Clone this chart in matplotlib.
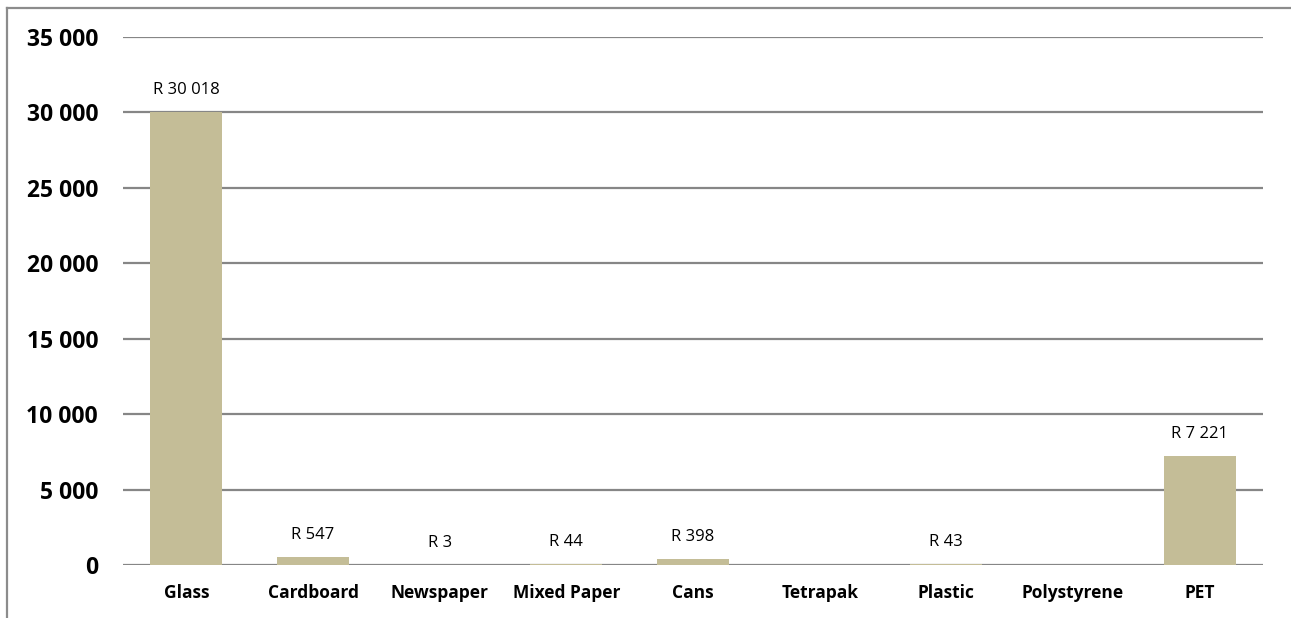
import numpy as np
import matplotlib.pyplot as plt
from matplotlib.ticker import FuncFormatter, MultipleLocator
from matplotlib.lines import Line2D

# recycling income per material (Rand); blank where nothing was sold
materials = ["Glass", "Cardboard", "Newspaper", "Mixed Paper", "Cans",
             "Tetrapak", "Plastic", "Polystyrene", "PET"]
income = [30018, 547, 3, 44, 398, None, 43, None, 7221]

bar_colour = "#C4BD97"
grid_colour = "#868686"


def space_thousands(v, pos=None):
    return "{:,.0f}".format(v).replace(",", " ")


def main():
    plt.rcParams['font.family'] = ['Open Sans', 'DejaVu Sans']

    fig = plt.figure(figsize=(12.91, 6.18), dpi=100)
    ax = fig.add_axes([0.0953, 0.0858, 0.883, 0.8545])

    x = np.arange(len(materials))
    heights = np.array([np.nan if v is None else v for v in income], dtype=float)
    ax.bar(x, np.nan_to_num(heights), width=0.57, color=bar_colour, zorder=3)

    # value labels above each bar that has data
    for xi, v in zip(x, income):
        if v is None:
            continue
        ax.annotate("R " + space_thousands(v), (xi, v), xytext=(0, 16),
                    textcoords="offset points", ha="center", va="center",
                    fontsize=12)

    ax.set_xlim(-0.5, len(materials) - 0.5)
    ax.set_ylim(0, 35000)
    ax.yaxis.set_major_locator(MultipleLocator(5000))
    ax.yaxis.set_major_formatter(FuncFormatter(space_thousands))
    ax.grid(axis="y", color=grid_colour, linewidth=1.6, zorder=0)

    ax.set_xticks(x)
    ax.set_xticklabels(materials, fontsize=12.5, fontweight="bold")
    for lbl in ax.get_yticklabels():
        lbl.set_fontsize(16.5)
        lbl.set_fontweight("bold")
    ax.tick_params(axis="y", length=0, pad=18)
    ax.tick_params(axis="x", length=0, pad=14)
    for s in ax.spines.values():
        s.set_visible(False)

    # chart area outline (left and top edges)
    fig.add_artist(Line2D([0.0054, 0.0054], [0.0, 0.9878], transform=fig.transFigure,
                          color="#8C8C8C", linewidth=1.6))
    fig.add_artist(Line2D([0.0054, 0.999], [0.9878, 0.9878], transform=fig.transFigure,
                          color="#8C8C8C", linewidth=1.6))

    fig.savefig("out.png", dpi=100)


if __name__ == "__main__":
    main()
